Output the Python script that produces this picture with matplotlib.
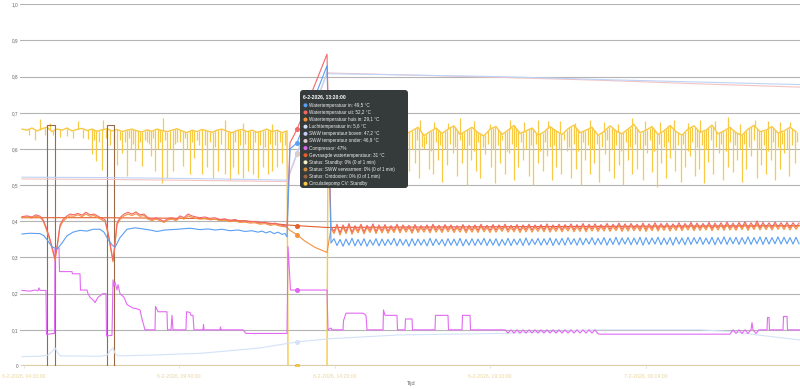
import numpy as np
import matplotlib.pyplot as plt
from matplotlib.patches import FancyBboxPatch, Circle

plt.rcParams['font.family'] = ['Liberation Sans', 'DejaVu Sans']

# x = sample index on the category axis
tick_pos = [24, 179, 334.5, 490, 645.5]
tick_labels = ["6-2-2026, 04:30:00", "6-2-2026, 09:40:00", "6-2-2026, 14:20:00",
               "6-2-2026, 19:10:00", "7-2-2026, 00:04:00"]
y_ticks = [0, 0.1, 0.2, 0.3, 0.4, 0.5, 0.6, 0.7, 0.8, 0.9, 1.0]
y_labels = ["0", "0,1", "0,2", "0,3", "0,4", "0,5", "0,6", "0,7", "0,8", "0,9", "1,0"]

# right-hand part is sampled every 3 steps
t_right = np.arange(331, 800, 3)

# Watertemperatuur in
blue_t = [22, 30, 40, 44, 48, 52, 57, 62, 67, 73, 80, 87, 93, 100, 104, 108, 112, 115, 120, 127,
          135, 143, 150, 157, 165, 177, 190, 200, 208, 215, 222, 230, 238, 245, 252, 258, 262, 266,
          270, 274, 278, 282, 285, 287, 290, 297, 327]
blue_v = [.365, .367, .366, .36, .345, .33, .323, .34, .36, .37, .375, .373, .378, .378, .37, .35, .335,
          .328, .355, .378, .382, .379, .376, .372, .376, .378, .381, .377, .379, .376, .378, .374, .376,
          .372, .374, .37, .373, .368, .372, .366, .37, .364, .366, .357, .60, .617, .83]
blue_r = [0.340, 0.352, 0.333, 0.350, 0.331, 0.351, 0.334, 0.353, 0.332, 0.350,
          0.333, 0.352, 0.331, 0.349, 0.334, 0.352, 0.332, 0.351, 0.333, 0.350,
          0.335, 0.353, 0.332, 0.351, 0.334, 0.350, 0.331, 0.352, 0.333, 0.351,
          0.334, 0.350, 0.332, 0.353, 0.333, 0.351, 0.335, 0.350, 0.332, 0.352,
          0.334, 0.351, 0.333, 0.353, 0.332, 0.350, 0.334, 0.352, 0.333, 0.351,
          0.335, 0.353, 0.333, 0.351, 0.334, 0.352, 0.332, 0.350, 0.334, 0.353,
          0.333, 0.351, 0.335, 0.352, 0.333, 0.354, 0.334, 0.351, 0.336, 0.353,
          0.334, 0.352, 0.335, 0.354, 0.333, 0.352, 0.335, 0.353, 0.334, 0.355,
          0.336, 0.352, 0.334, 0.354, 0.335, 0.353, 0.337, 0.355, 0.335, 0.353,
          0.336, 0.355, 0.334, 0.353, 0.336, 0.356, 0.335, 0.354, 0.337, 0.355,
          0.335, 0.354, 0.336, 0.356, 0.334, 0.355, 0.336, 0.354, 0.337, 0.356,
          0.335, 0.354, 0.336, 0.355, 0.334, 0.356, 0.337, 0.354, 0.335, 0.356,
          0.336, 0.355, 0.338, 0.356, 0.336, 0.354, 0.337, 0.356, 0.335, 0.355,
          0.337, 0.357, 0.336, 0.355, 0.338, 0.356, 0.336, 0.355, 0.337, 0.357,
          0.336, 0.355, 0.338, 0.357, 0.336, 0.356, 0.337, 0.355, 0.338, 0.357,
          0.337, 0.356, 0.338, 0.355, 0.337, 0.356, 0.338]

# Watertemperatuur uit
red_t = [22, 27, 32, 36, 40, 43, 46, 49, 52, 55, 57, 60, 63, 67, 70, 74, 78, 82, 86, 90,
         94, 98, 102, 105, 108, 110, 113, 115, 117, 120, 124, 128, 132, 136, 140, 144, 148, 152, 156, 160,
         164, 168, 172, 176, 180, 184, 188, 192, 196, 200, 205, 210, 215, 220, 225, 230, 235, 240, 245, 250,
         255, 260, 265, 270, 275, 280, 285, 287, 290, 297, 327]
red_v = [.413, .415, .412, .418, .414, .405, .385, .36, .33, .297, .33, .39, .405, .415, .42, .418, .422, .417, .425, .418,
         .42, .414, .408, .405, .37, .34, .292, .34, .395, .41, .42, .425, .42, .426, .418, .42, .41, .405, .41, .405,
         .40, .408, .41, .405, .415, .41, .42, .415, .412, .41, .412, .408, .41, .405, .407, .402, .405, .40, .402, .398,
         .40, .395, .398, .392, .395, .39, .388, .385, .617, .654, .862]
red_r = [0.385, 0.372, 0.392, 0.368, 0.390, 0.372, 0.394, 0.370, 0.388, 0.374,
         0.392, 0.371, 0.389, 0.375, 0.393, 0.372, 0.390, 0.374, 0.391, 0.373,
         0.388, 0.375, 0.392, 0.374, 0.390, 0.376, 0.389, 0.373, 0.391, 0.375,
         0.388, 0.376, 0.390, 0.374, 0.392, 0.376, 0.389, 0.375, 0.391, 0.377,
         0.390, 0.375, 0.388, 0.376, 0.391, 0.374, 0.389, 0.376, 0.390, 0.375,
         0.392, 0.377, 0.389, 0.375, 0.391, 0.376, 0.390, 0.378, 0.392, 0.376,
         0.389, 0.377, 0.391, 0.375, 0.390, 0.377, 0.392, 0.376, 0.390, 0.378,
         0.391, 0.377, 0.393, 0.376, 0.390, 0.378, 0.392, 0.377, 0.391, 0.379,
         0.393, 0.377, 0.391, 0.378, 0.394, 0.377, 0.392, 0.379, 0.393, 0.378,
         0.391, 0.379, 0.394, 0.378, 0.392, 0.380, 0.395, 0.378, 0.393, 0.379,
         0.394, 0.380, 0.392, 0.379, 0.395, 0.378, 0.393, 0.380, 0.396, 0.379,
         0.394, 0.381, 0.395, 0.379, 0.393, 0.381, 0.396, 0.380, 0.394, 0.382,
         0.397, 0.380, 0.395, 0.381, 0.394, 0.382, 0.397, 0.380, 0.395, 0.382,
         0.396, 0.381, 0.398, 0.382, 0.395, 0.381, 0.397, 0.383, 0.399, 0.381,
         0.396, 0.383, 0.401, 0.382, 0.397, 0.383, 0.396, 0.382, 0.398, 0.384,
         0.396, 0.383, 0.397, 0.382, 0.396, 0.384, 0.395]

# Watertemperatuur huis in
orange_t = red_t[:-1] + [305, 315, 327]
orange_v = [.41, .412, .409, .414, .411, .402, .38, .355, .325, .292, .325, .385, .40, .41, .415, .414, .418, .413, .42, .414,
            .416, .41, .404, .40, .365, .335, .288, .335, .39, .405, .415, .42, .416, .421, .414, .416, .406, .402, .406, .402,
            .397, .404, .406, .402, .41, .406, .415, .411, .408, .406, .408, .404, .406, .402, .403, .399, .401, .397, .398, .395,
            .396, .392, .394, .389, .391, .387, .385, .383, .375, .363, .345, .328, .314]
orange_r = [0.380, 0.366, 0.386, 0.362, 0.384, 0.366, 0.388, 0.364, 0.382, 0.368,
            0.386, 0.365, 0.383, 0.369, 0.387, 0.366, 0.384, 0.368, 0.385, 0.367,
            0.382, 0.369, 0.386, 0.368, 0.384, 0.370, 0.383, 0.367, 0.385, 0.369,
            0.382, 0.370, 0.384, 0.368, 0.386, 0.370, 0.383, 0.369, 0.385, 0.371,
            0.384, 0.369, 0.382, 0.370, 0.385, 0.368, 0.383, 0.370, 0.384, 0.369,
            0.386, 0.371, 0.383, 0.369, 0.385, 0.370, 0.384, 0.372, 0.386, 0.370,
            0.383, 0.371, 0.385, 0.369, 0.384, 0.371, 0.386, 0.370, 0.384, 0.372,
            0.385, 0.371, 0.387, 0.370, 0.384, 0.372, 0.386, 0.371, 0.385, 0.373,
            0.387, 0.371, 0.385, 0.372, 0.388, 0.371, 0.386, 0.373, 0.387, 0.372,
            0.385, 0.373, 0.388, 0.372, 0.386, 0.374, 0.389, 0.372, 0.387, 0.373,
            0.388, 0.374, 0.386, 0.373, 0.389, 0.372, 0.387, 0.374, 0.390, 0.373,
            0.388, 0.375, 0.389, 0.373, 0.387, 0.375, 0.390, 0.374, 0.388, 0.376,
            0.391, 0.374, 0.389, 0.375, 0.388, 0.376, 0.391, 0.374, 0.389, 0.376,
            0.390, 0.375, 0.392, 0.376, 0.389, 0.375, 0.391, 0.377, 0.393, 0.375,
            0.390, 0.377, 0.395, 0.376, 0.391, 0.377, 0.390, 0.376, 0.392, 0.378,
            0.390, 0.377, 0.391, 0.376, 0.390, 0.378, 0.389]

# Gevraagde watertemperatuur
asked_t = [22, 100, 200, 250, 287, 297, 327, 400, 500, 600, 700, 800]
asked_v = [.41, .41, .408, .40, .39, .388, .383, .384, .385, .386, .387, .388]

# Luchttemperatuur in
air_t = [22, 40, 48, 52, 55, 57, 60, 100, 107, 111, 113, 115, 118, 150, 200, 233, 260, 298, 333,
         400, 500, 600, 700, 733, 760, 800]
air_v = [.026, .027, .03, .04, .05, .04, .028, .027, .03, .045, .05, .035, .028, .03, .035, .043, .05, .067, .076,
         .086, .09, .1, .1, .095, .085, .072]

# SWW temperatuur boven / onder
sww_t = [22, 100, 200, 287, 297, 327, 330, 400, 500, 600, 700, 800]
sww_top = [.522, .521, .518, .514, .59, .808, .808, .805, .80, .792, .785, .778]
sww_bottom = [.517, .516, .513, .51, .585, .812, .81, .805, .798, .79, .78, .771]

# Compressor
comp_t = [22, 30, 35, 38, 39, 40, 46, 46.5, 53, 54.5, 55, 59, 59.5, 72, 72.5, 80, 80.5, 87, 88, 90,
          94, 95, 98, 103, 106, 106.5, 112, 113, 114, 115, 117, 118, 120, 124, 127, 130, 133, 137, 140, 142,
          144, 145, 155, 155.5, 158, 167, 167.5, 171, 172, 173, 186, 186.5, 190, 191, 193, 194, 203, 203.5, 204, 220,
          220.5, 221, 243, 246, 285, 287, 288, 290.5, 297, 327, 328, 331, 332, 343, 343.5, 346, 363, 366, 367, 383,
          383.5, 385, 397, 397.5, 405, 405.5, 412, 412.5, 435, 435.5, 448, 448.5, 462, 462.5, 470, 470.5, 505, 508,
          511, 514, 517, 520, 523, 526, 529, 532, 535, 538, 541, 544, 547, 550, 553, 556, 559, 562,
          565, 568, 571, 574, 577, 580, 583, 586, 589, 592, 595, 598, 600, 730, 733, 736, 739, 742,
          745, 748, 751, 752, 753, 756, 759, 767, 767.5, 769, 769.5, 783, 783.5, 787, 787.5, 800]
comp_v = [.209, .207, .21, .208, .216, .209, .209, .087, .09, .09, .326, .326, .261, .261, .255, .255, .21, .21, .2, .19,
          .18, .175, .19, .2, .2, .083, .085, .238, .22, .232, .21, .225, .2, .19, .17, .165, .16, .158, .155, .13,
          .11, .1, .1, .165, .15, .15, .1, .1, .14, .1, .1, .15, .148, .14, .14, .1, .1, .115, .1, .1,
          .108, .1, .1, .09, .09, .09, .33, .21, .21, .21, .1, .105, .1, .1, .125, .146, .146, .14, .1, .1,
          .155, .14, .14, .1, .1, .13, .13, .1, .1, .14, .14, .1, .1, .14, .14, .1, .1, .091,
          .1, .091, .1, .091, .1, .091, .1, .091, .1, .091, .1, .091, .1, .091, .1, .091, .1, .091,
          .1, .091, .1, .091, .1, .091, .1, .091, .1, .091, .1, .089, .088, .088, .1, .09, .1, .09,
          .1, .09, .1, .12, .1, .09, .1, .1, .134, .134, .1, .1, .137, .137, .1, .1]

# Status: Ontdooien
defrost_t = [22, 47, 47, 55, 55, 107, 107, 114, 114, 800]
defrost_v = [0, 0, .665, .665, 0, 0, .665, .665, 0, 0]
status_t = [22, 800]
status_v = [0, 0]

# Circulatiepomp CV: band level + single-sample dips/peaks
pump_left = [0.655, 0.652, 0.658, 0.650, 0.656, 0.660, 0.648, 0.655, 0.652, 0.658,
             0.650, 0.654, 0.657, 0.651, 0.655, 0.649, 0.653, 0.656, 0.650, 0.654,
             0.648, 0.652, 0.655, 0.650, 0.647, 0.653, 0.649, 0.655, 0.651, 0.648,
             0.652, 0.656, 0.650, 0.645, 0.652, 0.648, 0.654, 0.650, 0.646, 0.652,
             0.655, 0.649, 0.645, 0.651, 0.654, 0.648, 0.652, 0.646, 0.650, 0.655,
             0.648, 0.652, 0.645, 0.650]
pump_right = [0.630, 0.645, 0.655, 0.640, 0.660, 0.648, 0.635, 0.652, 0.662, 0.645,
              0.638, 0.655, 0.665, 0.642, 0.650, 0.660, 0.637, 0.648, 0.658, 0.643,
              0.655, 0.664, 0.640, 0.650, 0.660, 0.645, 0.636, 0.655, 0.662, 0.640,
              0.652, 0.665, 0.643, 0.650, 0.658, 0.638, 0.647, 0.662, 0.650, 0.640,
              0.656, 0.666, 0.645, 0.652, 0.660, 0.638, 0.648, 0.664, 0.650, 0.642,
              0.655, 0.668, 0.645, 0.652, 0.662, 0.640, 0.650, 0.665, 0.648, 0.638,
              0.655, 0.664, 0.646, 0.652, 0.666, 0.642, 0.650, 0.660, 0.645, 0.638,
              0.655, 0.665, 0.648, 0.652, 0.662, 0.644, 0.650, 0.660, 0.648]
dip_t = [29, 35, 45, 53, 60, 67, 73, 83, 88, 92, 96, 102, 110, 117, 122, 127, 131, 135, 138, 142,
         147, 151, 155, 158, 162, 167, 170, 173, 177, 183, 187, 190, 194, 199, 202, 207, 213, 218, 225, 230,
         233, 238, 243, 248, 253, 258, 263, 268, 272, 277, 282,
         333, 338, 342, 348, 353, 357, 362, 366, 371, 377, 381, 386, 391, 395, 400, 404, 409, 415, 419, 424,
         429, 433, 438, 442, 447, 453, 457, 462, 467, 471, 476, 480, 485, 491, 495, 500, 505, 509, 514, 518,
         523, 529, 533, 538, 543, 547, 552, 556, 561, 567, 571, 576, 581, 585, 590, 594, 599, 605, 609, 614,
         619, 623, 628, 632, 637, 643, 647, 652, 657, 661, 666, 670, 675, 681, 685, 690, 695, 699, 704, 708,
         713, 719, 723, 728, 733, 737, 742, 746, 751, 757, 761, 766, 771, 775, 780, 784, 789, 795]
dip_v = [.64, .626, .64, .64, .632, .637, .63, .63, .628, .585, .566, .543, .61, .557, .59, .524, .60, .566, .60, .552,
         .62, .58, .538, .60, .507, .52, .60, .54, .62, .553, .60, .53, .576, .61, .53, .55, .52, .54, .53, .515,
         .55, .53, .52, .54, .53, .52, .55, .53, .54, .55, .56,
         0.53, 0.56, 0.515, 0.58, 0.52, 0.55, 0.6, 0.51, 0.545, 0.57,
         0.52, 0.59, 0.535, 0.55, 0.51, 0.58, 0.54, 0.56, 0.52, 0.60,
         0.545, 0.53, 0.57, 0.51, 0.555, 0.59, 0.525, 0.56, 0.50, 0.57,
         0.54, 0.52, 0.585, 0.55, 0.505, 0.56, 0.53, 0.59, 0.515, 0.55,
         0.57, 0.525, 0.50, 0.56, 0.54, 0.58, 0.515, 0.55, 0.53, 0.595,
         0.52, 0.545, 0.50, 0.57, 0.53, 0.56, 0.51, 0.585, 0.54, 0.52,
         0.555, 0.50, 0.57, 0.53, 0.545, 0.515, 0.59, 0.535, 0.495, 0.56,
         0.52, 0.575, 0.54, 0.51, 0.55, 0.58, 0.525, 0.545, 0.505, 0.565,
         0.53, 0.59, 0.515, 0.55, 0.535, 0.57, 0.51, 0.545, 0.58, 0.52,
         0.555, 0.53, 0.57, 0.515, 0.545, 0.59, 0.525, 0.56]
# shallower dips between the deep ones
dip2_t = [94, 99, 106, 114, 120, 125, 129, 133, 140, 145, 149, 153, 160, 165, 175, 180, 185, 192, 197,
          205, 210, 215, 221, 228, 235, 240, 245, 250, 255, 260, 265, 270, 275, 280, 285,
          335, 340, 345, 350, 355, 360, 364, 369, 374, 379, 384, 388, 393, 398, 402, 407, 412, 417, 422, 426,
          431, 436, 440, 445, 450, 455, 460, 464, 469, 474, 478, 483, 488, 493, 498, 502, 507, 512, 516, 521,
          526, 531, 536, 540, 545, 550, 554, 559, 564, 569, 574, 578, 583, 588, 592, 597, 602, 607, 612, 616,
          621, 626, 630, 635, 640, 645, 650, 654, 659, 664, 668, 673, 678, 683, 688, 692, 697, 702, 706, 711,
          716, 721, 726, 730, 735, 740, 744, 749, 754, 759, 764, 768, 773, 778, 782, 787, 792, 797]
dip2_v = [.625, .62, .63, .615, .625, .62, .63, .615, .62, .625, .615, .63, .62, .625, .615, .62, .63, .62, .625,
          .61, .62, .605, .615, .60, .62, .61, .615, .60, .62, .61, .605, .615, .61, .62, .61,
          .61, .60, .62, .595, .615, .605, .62, .60, .61, .625,
          .60, .615, .595, .62, .605, .61, .60, .625, .605, .615,
          .595, .62, .61, .60, .615, .605, .625, .60, .61, .595,
          .62, .605, .615, .60, .61, .625, .595, .615, .605, .62,
          .60, .61, .615, .595, .62, .605, .61, .60, .625, .605,
          .615, .595, .62, .61, .60, .615, .605, .625, .60, .61,
          .595, .62, .605, .615, .60, .61, .625, .595, .615, .605,
          .62, .60, .61, .615, .595, .62, .605, .61, .60, .625,
          .605, .615, .595, .62, .61, .60, .615, .605, .625, .60,
          .61, .595, .62, .605, .615, .60, .61, .62]
peak_t = [40, 50, 78, 103, 163, 225, 243, 272, 340, 355, 368, 384, 398, 420, 434, 448, 460, 474, 490,
          510, 524, 538, 548, 560, 575, 590, 604, 618, 632, 645, 660, 674, 688, 700, 715, 728, 740,
          755, 768, 780, 790]
peak_v = [.682, .672, .678, .68, .685, .68, .672, .67, .672, .675, .676, .67, .68, .68, .675, .672, .685, .678, .67,
          .68, .674, .68, .676, .678, .672, .68, .675, .67, .685, .678, .674, .68, .672, .68, .676, .688, .67,
          .68, .678, .674, .675]

pump_t = np.concatenate([np.arange(22, 288, 5), [288, 327], np.arange(328, 800, 6)])
pump_v = np.concatenate([pump_left, [0, 0], pump_right])

hover_t = 297
tooltip_title = "6-2-2026, 13:20:00"
tooltip_rows = ["Watertemperatuur in: 49,5 °C", "Watertemperatuur uit: 52,2 °C",
                "Watertemperatuur huis in: 29,1 °C", "Luchttemperatuur in: 5,6 °C",
                "SWW temperatuur boven: 47,2 °C", "SWW temperatuur onder: 46,9 °C",
                "Compressor: 47%", "Gevraagde watertemperatuur: 31 °C",
                "Status: Standby: 0% (0 of 1 min)", "Status: SWW verwarmen: 0% (0 of 1 min)",
                "Status: Ontdooien: 0% (0 of 1 min)", "Circulatiepomp CV: Standby"]
tooltip_colors = ["#5a9ff2", "#f26767", "#f4923c", "#d3e2f8", "#c6cdf2", "#dccccc",
                  "#e066f0", "#e5602c", "#f6eec4", "#d08a3c", "#9a6440", "#f8c843"]

fig = plt.figure(figsize=(8, 3.89), dpi=100)
ax = fig.add_axes([20 / 800, 23 / 389, 780 / 800, 361.7 / 389])
ax.set_xlim(20, 800)
ax.set_ylim(0, 1)
for s in ax.spines.values():
    s.set_visible(False)
for y in y_ticks[1:]:
    ax.axhline(y, color="#b4b4b4", lw=0.8, zorder=0)
ax.set_yticks(y_ticks, y_labels)
ax.set_xticks(tick_pos, tick_labels)
ax.tick_params(axis="y", length=0, pad=1.2, labelsize=3.4, labelcolor="#666666")
ax.tick_params(axis="x", length=1.5, width=0.4, color="#c8c8c8", pad=3.5, labelsize=3.7,
               labelcolor="#ead59a")

lw = 0.8
pump_c = "#f8c944"
# yellow pump band
ax.plot(pump_t, pump_v, color=pump_c, lw=1.0, zorder=1)
ax.vlines(dip_t, dip_v, np.interp(dip_t, pump_t, pump_v), color=pump_c, lw=0.9, zorder=1)
ax.vlines(dip2_t, dip2_v, np.interp(dip2_t, pump_t, pump_v), color=pump_c, lw=0.9, zorder=1)
ax.vlines(peak_t, np.interp(peak_t, pump_t, pump_v), peak_v, color=pump_c, lw=0.9, zorder=1)

# statuses
ax.plot(status_t, status_v, color="#ddd3b0", lw=1.6, zorder=1.5)
ax.plot(status_t, status_v, color="#d6c9a6", lw=0.6, zorder=1.6)
ax.plot(defrost_t, defrost_v, color="#9a6a46", lw=lw, zorder=2)

ax.plot(air_t, air_v, color="#d3e2f8", lw=lw, zorder=3)
ax.plot(sww_t, sww_bottom, color="#f4c2c2", lw=lw, zorder=3)
ax.plot(sww_t, sww_top, color="#bed3f6", lw=lw, zorder=3.1)
ax.plot(comp_t, comp_v, color="#e36af3", lw=lw, zorder=4)
ax.plot(asked_t, asked_v, color="#e5602c", lw=lw, zorder=4.5)
ax.plot(orange_t + list(t_right), orange_v + orange_r, color="#f4923c", lw=lw, zorder=5)
ax.plot(red_t + list(t_right), red_v + red_r, color="#f26767", lw=lw, zorder=6)
ax.plot(blue_t + list(t_right), blue_v + blue_r, color="#5a9ff2", lw=lw, zorder=7)

# hover points
series = [(blue_t + list(t_right), blue_v + blue_r), (red_t + list(t_right), red_v + red_r),
          (orange_t + list(t_right), orange_v + orange_r), (air_t, air_v), (sww_t, sww_top),
          (sww_t, sww_bottom), (comp_t, comp_v), (asked_t, asked_v), (status_t, status_v),
          (status_t, status_v), (defrost_t, defrost_v), (pump_t, pump_v)]
for (st, sv), c in zip(series, tooltip_colors):
    ax.plot([hover_t], [np.interp(hover_t, st, sv)], "o", ms=2.6, color=c, mec=c, zorder=8)

# overlay in pixel units for the tooltip and axis title
ov = fig.add_axes([0, 0, 1, 1])
ov.set_xlim(0, 800)
ov.set_ylim(389, 0)
ov.axis("off")
ov.text(411.5, 384, "Tijd", fontsize=4, color="#666666", ha="center", va="center")
ov.add_patch(FancyBboxPatch((300, 90), 108, 98, boxstyle="round,pad=0,rounding_size=3",
                            fc="#343b3a", ec="none", zorder=10))
ov.text(303, 97, tooltip_title, fontsize=3.6, fontweight="bold", color="white",
        ha="left", va="center", zorder=11)
for i, (row, c) in enumerate(zip(tooltip_rows, tooltip_colors)):
    y = 105.3 + 7.13 * i
    ov.add_patch(Circle((305.5, y), 2.0, fc=c, ec="none", zorder=11))
    ov.text(309, y, row, fontsize=3.3, color="#f0f0f0", ha="left", va="center", zorder=11)

fig.savefig("out.png", dpi=100)
